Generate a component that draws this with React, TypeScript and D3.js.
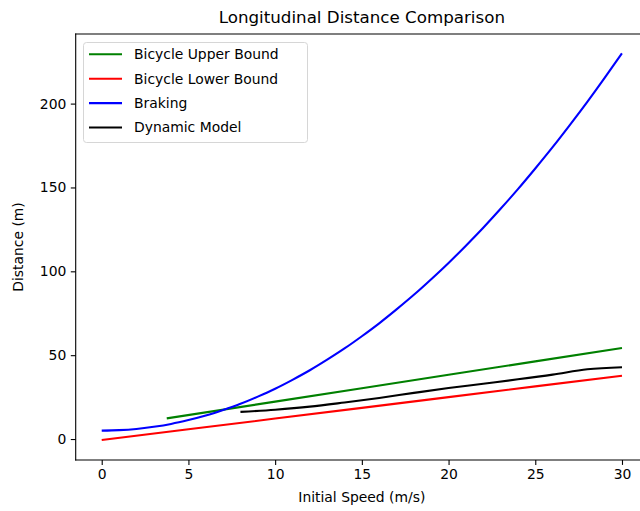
import { useEffect, useRef } from "react";
import * as d3 from "d3";

// values
const brakingSpeed = [
  0, 1, 2, 3, 4, 5, 6, 7, 8, 9, 10, 11, 12, 13, 14, 15, 16, 17, 18, 19, 20,
  21, 22, 23, 24, 25, 26, 27, 28, 29, 30,
];
const brakingDist = [
  5, 5.3, 6, 7.3, 9, 11.3, 14, 17.3, 21, 25.3, 30, 35.3, 41, 47.3, 54, 61.3,
  69, 77.3, 86, 95.3, 105, 115.3, 126, 137.3, 149, 161.3, 174, 187.3, 201,
  215.3, 230,
];

const upperSpeed = [3.75, 10, 15, 20, 25, 30];
const upperDist = [12.3, 22.3, 30.3, 38.3, 46.3, 54.3];

const lowerSpeed = [0, 5, 10, 15, 20, 25, 30];
const lowerDist = [-0.6, 5.8, 12.2, 18.6, 25, 31.4, 37.7];

const dynSpeed = [8, 10, 12, 14, 16, 18, 20, 22, 24, 26, 28, 30];
const dynDist = [16.2, 17.5, 19.3, 21.8, 24.5, 27.5, 30.4, 33.0, 35.6, 38.4, 41.6, 42.8];

const xTicks = [0, 5, 10, 15, 20, 25, 30];
const yTicks = [0, 50, 100, 150, 200];

const series = [
  { name: "Bicycle Upper Bound", color: "green", xs: upperSpeed, ys: upperDist, curve: d3.curveLinear },
  { name: "Bicycle Lower Bound", color: "red", xs: lowerSpeed, ys: lowerDist, curve: d3.curveLinear },
  { name: "Braking", color: "blue", xs: brakingSpeed, ys: brakingDist, curve: d3.curveNatural },
  { name: "Dynamic Model", color: "black", xs: dynSpeed, ys: dynDist, curve: d3.curveMonotoneX },
];

const FONT = "DejaVu Sans, sans-serif";

export default function App() {
  const ref = useRef<SVGSVGElement>(null);

  useEffect(() => {
    const svg = d3.select(ref.current);
    svg.selectAll("*").remove();

    const width = 640;
    const height = 511;
    const margin = { top: 34, left: 75.7, right: 648, bottom: 460 };

    const x = d3.scaleLinear().domain([-1.5, 31.5]).range([margin.left, margin.right]);
    const y = d3.scaleLinear().domain([-12.5, 241.5]).range([margin.bottom, margin.top]);

    svg.append("rect").attr("width", width).attr("height", height).attr("fill", "white");

    // lines
    series.forEach((s) => {
      const pts = s.xs.map((v, i) => [v, s.ys[i]] as [number, number]);
      const line = d3
        .line<[number, number]>()
        .x((d) => x(d[0]))
        .y((d) => y(d[1]))
        .curve(s.curve);
      svg
        .append("path")
        .attr("d", line(pts))
        .attr("fill", "none")
        .attr("stroke", s.color)
        .attr("stroke-width", 2.1)
        .attr("stroke-linecap", "butt");
    });

    // axes
    const xAxis = svg
      .append("g")
      .attr("transform", `translate(0,${margin.bottom})`)
      .call(d3.axisBottom(x).tickValues(xTicks).tickSize(4.9).tickPadding(4.5).tickSizeOuter(0));
    const yAxis = svg
      .append("g")
      .attr("transform", `translate(${margin.left},0)`)
      .call(d3.axisLeft(y).tickValues(yTicks).tickSize(4.9).tickPadding(4.5).tickSizeOuter(0));
    [xAxis, yAxis].forEach((a) => {
      a.select(".domain").remove();
      a.selectAll("line").attr("stroke", "black").attr("stroke-width", 1.1);
      a.selectAll("text")
        .attr("fill", "black")
        .style("font-family", FONT)
        .style("font-size", "13.9px");
    });

    // spines (right one falls outside the picture)
    const spines = [
      [margin.left, margin.top, margin.left, margin.bottom],
      [margin.left, margin.top, width, margin.top],
      [margin.left, margin.bottom, width, margin.bottom],
    ];
    spines.forEach(([x1, y1, x2, y2]) => {
      svg
        .append("line")
        .attr("x1", x1)
        .attr("y1", y1)
        .attr("x2", x2)
        .attr("y2", y2)
        .attr("stroke", "black")
        .attr("stroke-width", 1.1)
        .attr("stroke-linecap", "square");
    });

    // labels
    svg
      .append("text")
      .attr("x", (margin.left + margin.right) / 2)
      .attr("y", 23)
      .attr("text-anchor", "middle")
      .style("font-family", FONT)
      .style("font-size", "16.7px")
      .text("Longitudinal Distance Comparison");

    svg
      .append("text")
      .attr("x", (margin.left + margin.right) / 2)
      .attr("y", 502)
      .attr("text-anchor", "middle")
      .style("font-family", FONT)
      .style("font-size", "13.9px")
      .text("Initial Speed (m/s)");

    svg
      .append("text")
      .attr("transform", `translate(23,${(margin.top + margin.bottom) / 2}) rotate(-90)`)
      .attr("text-anchor", "middle")
      .style("font-family", FONT)
      .style("font-size", "13.9px")
      .text("Distance (m)");

    // legend
    const lg = svg.append("g");
    lg.append("rect")
      .attr("x", 83.5)
      .attr("y", 42.5)
      .attr("width", 224)
      .attr("height", 100)
      .attr("rx", 3)
      .attr("fill", "white")
      .attr("fill-opacity", 0.8)
      .attr("stroke", "#d6d6d6")
      .attr("stroke-width", 1);
    series.forEach((s, i) => {
      const cy = 54.3 + i * 24.4;
      lg.append("line")
        .attr("x1", 89)
        .attr("x2", 122)
        .attr("y1", cy)
        .attr("y2", cy)
        .attr("stroke", s.color)
        .attr("stroke-width", 2.1);
      lg.append("text")
        .attr("x", 134)
        .attr("y", cy)
        .attr("dy", "0.35em")
        .style("font-family", FONT)
        .style("font-size", "13.9px")
        .text(s.name);
    });
  }, []);

  return (
    <svg
      ref={ref}
      width={640}
      height={511}
      style={{ position: "absolute", left: 0, top: 0, overflow: "hidden" }}
    ></svg>
  );
}
